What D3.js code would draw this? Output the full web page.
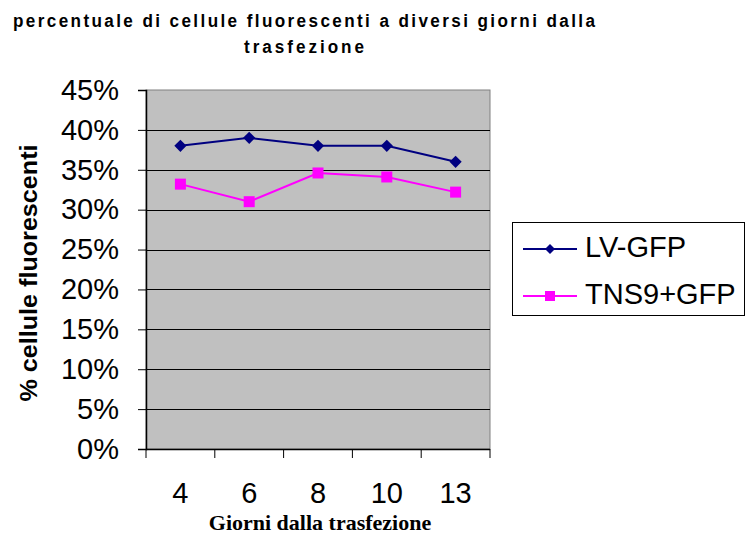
<!DOCTYPE html>
<html><head><meta charset="utf-8">
<script src="https://cdn.jsdelivr.net/npm/d3@7/dist/d3.min.js"></script>
<style>body{margin:0;background:#fff}svg{display:block}</style>
</head><body>
<svg id="c" width="746" height="536"></svg>
<script>
const categories = ["4", "6", "8", "10", "13"];
const lvGfp = [0.38, 0.39, 0.38, 0.38, 0.36];
const tns9Gfp = [0.332, 0.31, 0.346, 0.341, 0.322];
const seriesNames = ["LV-GFP", "TNS9+GFP"];
const yTicks = [0, 0.05, 0.10, 0.15, 0.20, 0.25, 0.30, 0.35, 0.40, 0.45];
const titleLines = ["percentuale di cellule fluorescenti a diversi giorni dalla", "trasfezione"];
const yTitle = "% cellule fluorescenti";
const xTitle = "Giorni dalla trasfezione";

const svg = d3.select("#c");
const L = 146, R = 490, T = 90, B = 449;
const x = d3.scaleBand().domain(categories).range([L, R]);
const y = d3.scaleLinear().domain([0, 0.45]).range([B, T]);

// plot area
svg.append("rect").attr("x", L).attr("y", T).attr("width", R - L).attr("height", B - T)
  .attr("fill", "#c0c0c0").attr("stroke", "#808080").attr("stroke-width", 1);

// gridlines
svg.append("g").selectAll("line").data(yTicks.filter(d => d > 0 && d < 0.45)).join("line")
  .attr("x1", L).attr("x2", R).attr("y1", d => Math.round(y(d)) + 0.5).attr("y2", d => Math.round(y(d)) + 0.5)
  .attr("stroke", "#000").attr("stroke-width", 1);

// y axis
const yAxis = d3.axisLeft(y).tickValues(yTicks).tickFormat(d3.format(".0%")).tickSize(8).tickPadding(19);
const gy = svg.append("g").attr("transform", `translate(${L},0)`).call(yAxis);
gy.select(".domain").attr("stroke", "#000").attr("stroke-width", 1.5);
gy.selectAll(".tick line").attr("stroke", "#000");
gy.selectAll("text").attr("font-family", "Liberation Sans, Arial, sans-serif").attr("font-size", 29).attr("fill", "#000");

// x axis
const gx = svg.append("g").attr("transform", `translate(0,${B})`);
gx.append("line").attr("x1", L).attr("x2", R).attr("y1", 0.5).attr("y2", 0.5).attr("stroke", "#000").attr("stroke-width", 1.5);
const bounds = categories.map(c => x(c)).concat([R]);
gx.selectAll("line.t").data(bounds).join("line").attr("class", "t")
  .attr("x1", d => d).attr("x2", d => d).attr("y1", 0).attr("y2", 9).attr("stroke", "#000");
gx.selectAll("text").data(categories).join("text")
  .attr("x", d => x(d) + x.bandwidth() / 2).attr("y", 54).attr("text-anchor", "middle")
  .attr("font-family", "Liberation Sans, Arial, sans-serif").attr("font-size", 29).text(d => d);

// lines
const line = d3.line().x((d, i) => x(categories[i]) + x.bandwidth() / 2).y(d => y(d));
svg.append("path").datum(lvGfp).attr("d", line).attr("fill", "none").attr("stroke", "#000080").attr("stroke-width", 2);
svg.append("path").datum(tns9Gfp).attr("d", line).attr("fill", "none").attr("stroke", "#ff00ff").attr("stroke-width", 2);
const diamond = d3.symbol().type(d3.symbolSquare).size(74);
svg.append("g").selectAll("path").data(lvGfp).join("path")
  .attr("d", diamond)
  .attr("transform", (d, i) => `translate(${x(categories[i]) + x.bandwidth() / 2},${y(d)}) rotate(45)`)
  .attr("fill", "#000080");
svg.append("g").selectAll("rect").data(tns9Gfp).join("rect")
  .attr("x", (d, i) => x(categories[i]) + x.bandwidth() / 2 - 5.5).attr("y", d => y(d) - 5.5)
  .attr("width", 11).attr("height", 11).attr("fill", "#ff00ff");

// titles (slightly condensed glyphs with extra spacing)
const sx = 0.9;
svg.append("g").attr("transform", `scale(${sx},1)`).selectAll("text").data(titleLines).join("text")
  .attr("x", 304 / sx).attr("y", (d, i) => i === 0 ? 27 : 53).attr("text-anchor", "middle")
  .attr("font-family", "Liberation Sans, Arial, sans-serif").attr("font-weight", "bold").attr("font-size", 19)
  .attr("textLength", (d, i) => (i === 0 ? 582 : 120) / sx).attr("lengthAdjust", "spacing")
  .text(d => d);
svg.append("text").attr("transform", "translate(37,273) rotate(-90)").attr("text-anchor", "middle")
  .attr("font-family", "Liberation Sans, Arial, sans-serif").attr("font-weight", "bold").attr("font-size", 24)
  .attr("textLength", 257).attr("lengthAdjust", "spacingAndGlyphs").text(yTitle);
svg.append("text").attr("x", 320).attr("y", 530).attr("text-anchor", "middle")
  .attr("font-family", "Liberation Serif, Times New Roman, serif").attr("font-weight", "bold").attr("font-size", 22)
  .text(xTitle);

// legend
const lg = svg.append("g");
lg.append("rect").attr("x", 512.5).attr("y", 222.5).attr("width", 232).attr("height", 93)
  .attr("fill", "#fff").attr("stroke", "#000").attr("stroke-width", 1);
const ly = [249, 296], colors = ["#000080", "#ff00ff"];
seriesNames.forEach((n, i) => {
  lg.append("line").attr("x1", 523).attr("x2", 577).attr("y1", ly[i]).attr("y2", ly[i]).attr("stroke", colors[i]).attr("stroke-width", 2);
  if (i === 0) lg.append("path").attr("d", d3.symbol().type(d3.symbolSquare).size(50)()).attr("transform", `translate(550,${ly[i]}) rotate(45)`).attr("fill", colors[i]);
  else lg.append("rect").attr("x", 545).attr("y", ly[i] - 5).attr("width", 10).attr("height", 10).attr("fill", colors[i]);
  lg.append("text").attr("x", 585).attr("y", ly[i] + 8).attr("font-family", "Liberation Sans, Arial, sans-serif")
    .attr("font-size", 29).text(n);
});
</script>
</body></html>
